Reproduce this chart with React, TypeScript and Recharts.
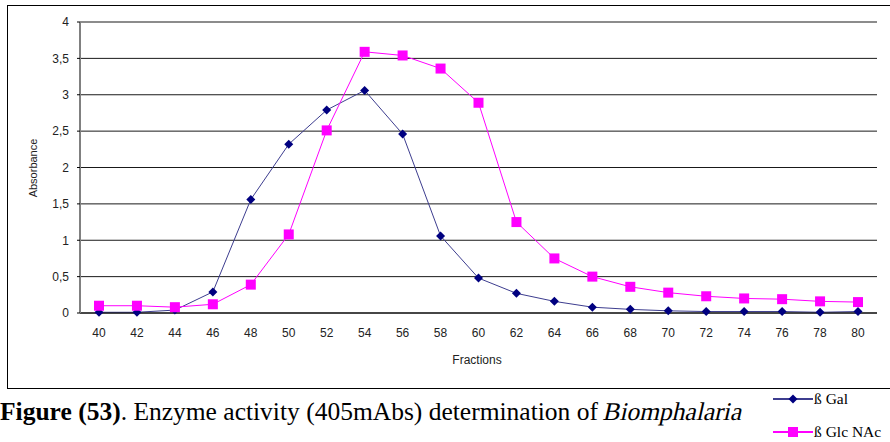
import { LineChart, Line, XAxis, YAxis, CartesianGrid } from "recharts";

const fractions = [40, 42, 44, 46, 48, 50, 52, 54, 56, 58, 60, 62, 64, 66, 68, 70, 72, 74, 76, 78, 80];
const galValues = [0.01, 0.01, 0.04, 0.29, 1.56, 2.32, 2.79, 3.06, 2.46, 1.06, 0.48, 0.27, 0.16, 0.08, 0.05, 0.03, 0.02, 0.02, 0.02, 0.01, 0.02];
const glcValues = [0.1, 0.1, 0.08, 0.12, 0.39, 1.08, 2.51, 3.59, 3.54, 3.36, 2.89, 1.25, 0.75, 0.5, 0.36, 0.28, 0.23, 0.2, 0.19, 0.16, 0.15];
const yTicks = [0, 0.5, 1, 1.5, 2, 2.5, 3, 3.5, 4];

const data = fractions.map((f, i) => ({ fraction: f, gal: galValues[i], glc: glcValues[i] }));

const GAL_LINE = "#3d3d8f";
const GAL_MARK = "#000080";
const GLC = "#ff00ff";
const SERIF = "'Liberation Serif', 'Times New Roman', 'DejaVu Serif', serif";

const Diamond = (props: any) => {
  const { cx, cy, index } = props;
  if (cx == null || cy == null) return null;
  return (
    <path
      key={`d-${index}`}
      d={`M${cx},${cy - 4.5} L${cx + 4.5},${cy} L${cx},${cy + 4.5} L${cx - 4.5},${cy} Z`}
      fill={GAL_MARK}
    />
  );
};

const Square = (props: any) => {
  const { cx, cy, index } = props;
  if (cx == null || cy == null) return null;
  return <rect key={`s-${index}`} x={cx - 5} y={cy - 5} width={10} height={10} fill={GLC} />;
};

const tickStyle = { fontFamily: "Liberation Sans, Arial, sans-serif", fontSize: 12, fill: "#222" };

export default function App() {
  return (
    <div
      style={{
        position: "fixed",
        left: 0,
        top: 0,
        width: 890,
        height: 442,
        background: "#fff",
        overflow: "hidden",
      }}
    >
      <div
        style={{
          position: "absolute",
          left: 7,
          top: 5,
          width: 900,
          height: 382,
          border: "1px solid #000",
        }}
      />
      <div style={{ position: "absolute", left: 0, top: 0 }}>
        <LineChart width={890} height={442} data={data} margin={{ top: 22, right: 13, left: 0, bottom: 0 }}>
          <CartesianGrid vertical={false} stroke="#000" strokeOpacity={0.9} />
          <XAxis
            dataKey="fraction"
            height={129}
            padding={{ left: 19, right: 19 }}
            tickLine={false}
            tickSize={0}
            tickMargin={15}
            axisLine={{ stroke: "#000" }}
            tick={tickStyle}
            interval={0}
          />
          <YAxis
            width={80}
            domain={[0, 4]}
            ticks={yTicks}
            tickSize={3}
            tickMargin={8}
            tickLine={{ stroke: "#000" }}
            axisLine={{ stroke: "#808080", strokeWidth: 2 }}
            tick={tickStyle}
            tickFormatter={(v: number) => String(v).replace(".", ",")}
          />
          <Line
            dataKey="gal"
            stroke={GAL_LINE}
            strokeWidth={1}
            dot={Diamond}
            activeDot={false}
            isAnimationActive={false}
          />
          <Line
            dataKey="glc"
            stroke={GLC}
            strokeWidth={1}
            dot={Square}
            activeDot={false}
            isAnimationActive={false}
          />
        </LineChart>
      </div>
      <div
        style={{
          position: "absolute",
          left: 33,
          top: 168,
          transform: "translate(-50%, -50%) rotate(-90deg)",
          fontFamily: "Liberation Sans, Arial, sans-serif",
          fontSize: 11,
          color: "#222",
          whiteSpace: "nowrap",
        }}
      >
        Absorbance
      </div>
      <div
        style={{
          position: "absolute",
          left: 477,
          top: 360,
          transform: "translate(-50%, -50%)",
          fontFamily: "Liberation Sans, Arial, sans-serif",
          fontSize: 12,
          color: "#222",
          whiteSpace: "nowrap",
        }}
      >
        Fractions
      </div>
      <div
        style={{
          position: "absolute",
          left: 0,
          top: 397,
          fontFamily: SERIF,
          fontSize: 25.5,
          color: "#000",
          whiteSpace: "nowrap",
          lineHeight: "30px",
        }}
      >
        <b>Figure (53)</b>. Enzyme activity (405mAbs) determination of{" "}
        {/* no serif italic face installed, so slant the regular one */}
        <span style={{ display: "inline-block", transform: "skewX(-13deg)" }}>Biomphalaria</span>
      </div>
      <div
        style={{
          position: "absolute",
          left: 772,
          top: 389,
          fontFamily: SERIF,
          fontSize: 15.5,
          color: "#000",
        }}
      >
        <div style={{ display: "flex", alignItems: "center", height: 20 }}>
          <svg width={42} height={12}>
            <line x1={1} y1={6} x2={41} y2={6} stroke={GAL_LINE} strokeWidth={2} />
            <path d="M21,1.5 L25.5,6 L21,10.5 L16.5,6 Z" fill={GAL_MARK} />
          </svg>
          <span style={{ whiteSpace: "nowrap" }}>ß Gal</span>
        </div>
        <div style={{ display: "flex", alignItems: "center", height: 20, marginTop: 13 }}>
          <svg width={42} height={12}>
            <line x1={1} y1={6} x2={41} y2={6} stroke={GLC} strokeWidth={2} />
            <rect x={16} y={1} width={10} height={10} fill={GLC} />
          </svg>
          <span style={{ whiteSpace: "nowrap" }}>ß Glc NAc</span>
        </div>
      </div>
    </div>
  );
}
